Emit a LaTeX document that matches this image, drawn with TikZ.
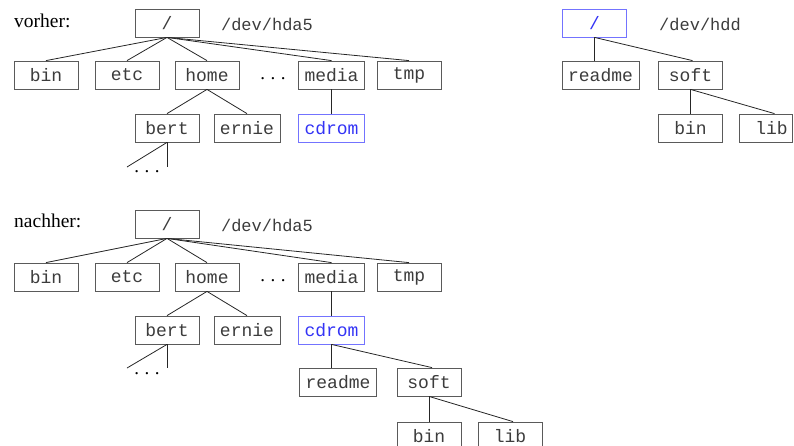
\documentclass[tikz,border=0pt]{standalone}
\usepackage{fontspec}
\setmainfont{Liberation Serif}
\setmonofont{Liberation Mono}
\definecolor{boxgray}{HTML}{5A5A5A}
\definecolor{txtgray}{HTML}{3C3C3C}
\definecolor{bluebox}{HTML}{7373FF}
\definecolor{bluetxt}{HTML}{3333F5}
\newcommand{\spdots}{.\hspace{5.5pt}.\hspace{5.5pt}.}
\begin{document}
\begin{tikzpicture}[x=1pt,y=-1pt,
  dir/.style={draw=boxgray, line width=0.8pt, minimum width=64pt, minimum height=28pt,
              inner xsep=6pt, inner ysep=2pt, font=\ttfamily\fontsize{18}{18}\selectfont, text=txtgray},
  hl/.style={dir, draw=bluebox, text=bluetxt},
  devlbl/.style={font=\ttfamily\fontsize{17}{17}\selectfont, text=txtgray, inner sep=0pt},
  ttl/.style={font=\fontsize{19.5}{20}\selectfont, anchor=base west, inner sep=0pt},
  more/.style={font=\fontsize{19}{19}\selectfont, anchor=base, inner sep=0pt},
  edge/.style={line width=0.8pt, draw=black!85}]
\useasboundingbox (0,0) rectangle (794,445);

% ---------- vorher, /dev/hda5 ----------
\node[ttl] (vorher) at (14,27) {vorher:};
\node[dir] (rootA) at (167,23) {/};
\node[devlbl] (devA) at (267,24) {/dev/hda5};
\node[dir] (binA) at (46,75) {bin};
\node[dir] (etcA) at (127,75) {etc};
\node[dir] (homeA) at (207,75) {home};
\node[more] (dotsA) at (273,79) {\spdots};
\node[dir] (mediaA) at (331.5,75) {media};
\node[dir] (tmpA) at (409,75) {tmp};
\node[dir] (bertA) at (167,128) {bert};
\node[dir] (ernieA) at (247,128) {ernie};
\node[hl] (cdromA) at (331.5,128) {cdrom};
\coordinate (bAl) at (127,167);
\coordinate (bAr) at (167,167);
\node[more] (bdotsA) at (147,172) {\spdots};

\foreach \c in {binA,etcA,homeA,mediaA,tmpA}
  \draw[edge] (rootA.south) -- (\c.north);
\draw[edge] (homeA.south) -- (bertA.north);
\draw[edge] (homeA.south) -- (ernieA.north);
\draw[edge] (mediaA.south) -- (cdromA.north);
\draw[edge] (bertA.south) -- (bAl);
\draw[edge] (bertA.south) -- (bAr);

% ---------- /dev/hdd ----------
\node[hl] (rootB) at (594.5,23) {/};
\node[devlbl] (devB) at (700,24) {/dev/hdd};
\node[dir] (readmeB) at (600.5,75) {readme};
\node[dir] (softB) at (690.5,75) {soft};
\node[dir] (binB) at (690.5,128) {bin};
\node[dir, minimum width=53pt, inner xsep=0pt] (libB) at (765.5,128) {\hspace*{12pt}lib};
\draw[edge] (rootB.south) -- (rootB.south |- readmeB.north);
\draw[edge] (rootB.south) -- ([xshift=2pt]softB.north);
\draw[edge] (softB.south) -- (binB.north);
\draw[edge] (softB.south) -- ([xshift=9pt]libB.north);

% ---------- nachher ----------
\node[ttl] (nachher) at (14,227) {nachher:};
\node[dir] (rootC) at (167,224) {/};
\node[devlbl] (devC) at (267,225) {/dev/hda5};
\node[dir] (binC) at (46,277) {bin};
\node[dir] (etcC) at (127,277) {etc};
\node[dir] (homeC) at (207,277) {home};
\node[more] (dotsC) at (273,281) {\spdots};
\node[dir] (mediaC) at (331.5,277) {media};
\node[dir] (tmpC) at (409,277) {tmp};
\node[dir] (bertC) at (167,330) {bert};
\node[dir] (ernieC) at (247,330) {ernie};
\node[hl] (cdromC) at (331.5,330) {cdrom};
\coordinate (bCl) at (127,368);
\coordinate (bCr) at (167,368);
\node[more] (bdotsC) at (147,374) {\spdots};
\node[dir] (readmeC) at (338,382) {readme};
\node[dir] (softC) at (429,382) {soft};
\node[dir] (binD) at (429,436) {bin};
\node[dir] (libD) at (510,436) {lib};

\foreach \c in {binC,etcC,homeC,mediaC,tmpC}
  \draw[edge] (rootC.south) -- (\c.north);
\draw[edge] (homeC.south) -- (bertC.north);
\draw[edge] (homeC.south) -- (ernieC.north);
\draw[edge] (mediaC.south) -- (cdromC.north);
\draw[edge] (bertC.south) -- (bCl);
\draw[edge] (bertC.south) -- (bCr);
\draw[edge] (cdromC.south) -- (cdromC.south |- readmeC.north);
\draw[edge] (cdromC.south) -- ([xshift=3pt]softC.north);
\draw[edge] (softC.south) -- (binD.north);
\draw[edge] (softC.south) -- ([xshift=3pt]libD.north);
\end{tikzpicture}
\end{document}
